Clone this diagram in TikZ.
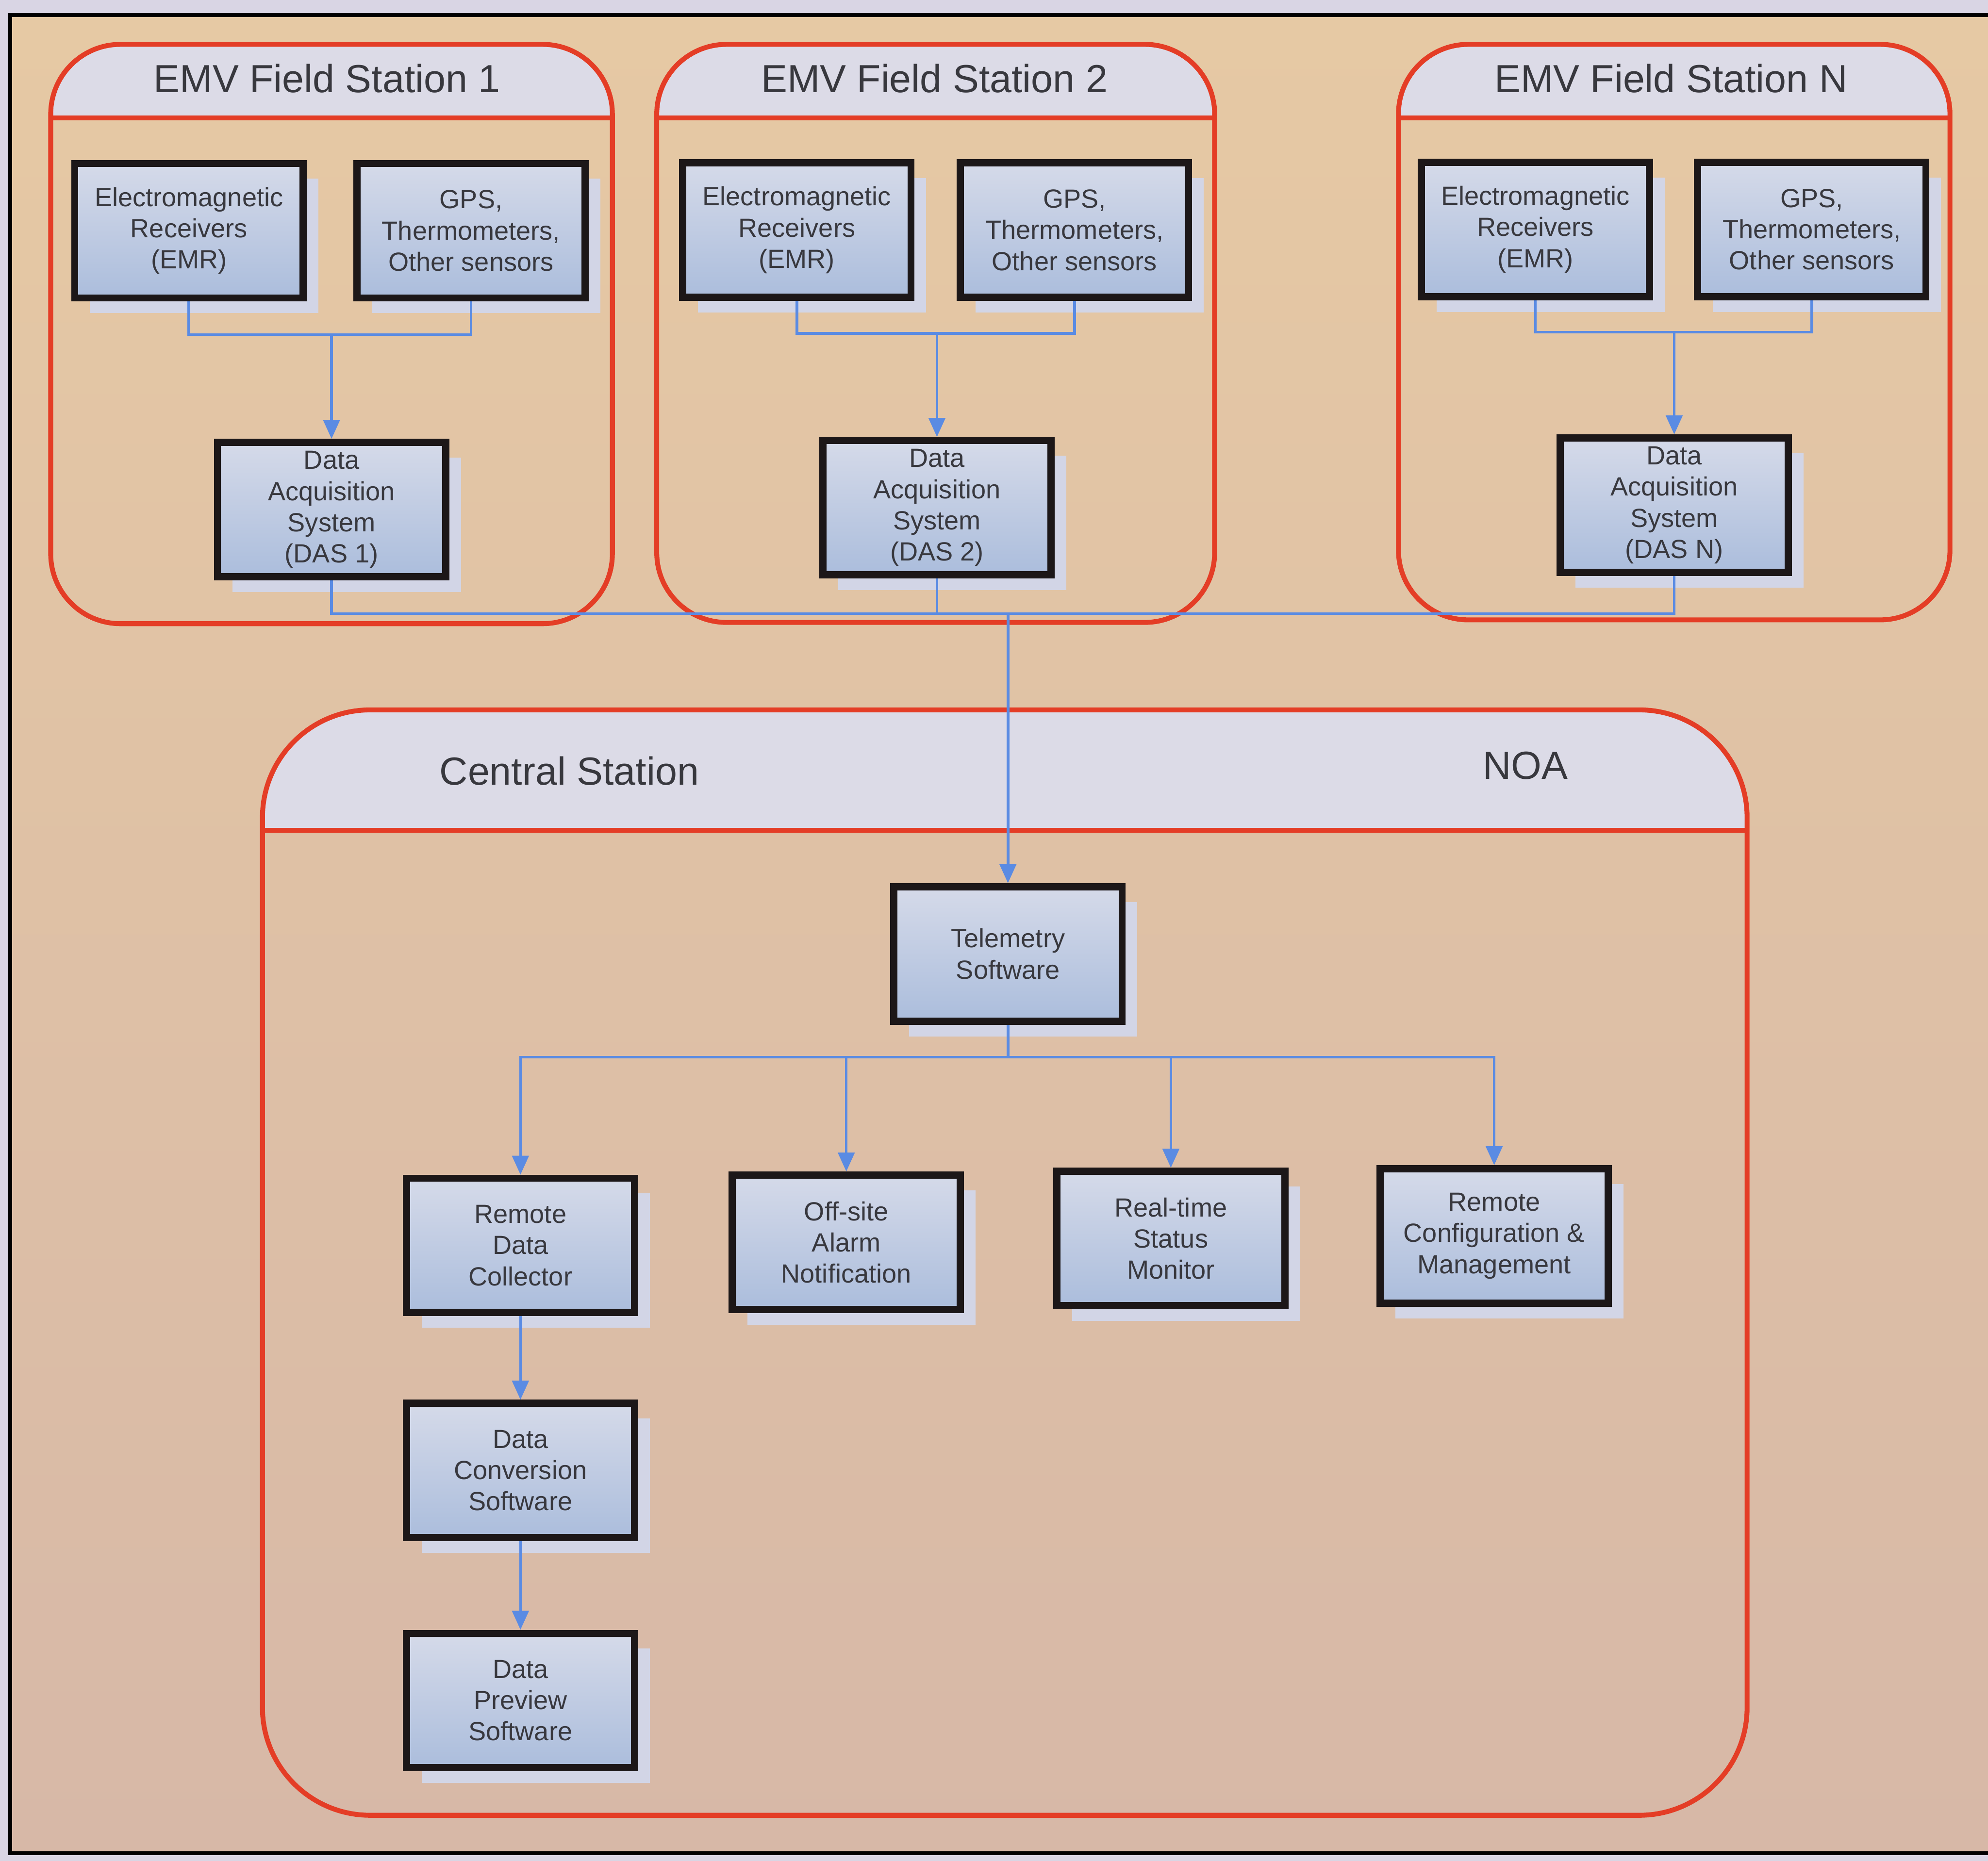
\documentclass[tikz,border=0pt]{standalone}
\usepackage{fontspec}
\setmainfont{Liberation Sans}
\usetikzlibrary{arrows.meta,shadows}

\definecolor{outerbg}{HTML}{D9D5E4}
\definecolor{beigetop}{HTML}{E6C9A4}
\definecolor{beigebot}{HTML}{D7B8A7}
\definecolor{headc}{HTML}{DCDBE7}
\definecolor{redc}{HTML}{E43D26}
\definecolor{bluec}{HTML}{5A8BE3}
\definecolor{boxline}{HTML}{1C1718}
\definecolor{boxtop}{HTML}{D5DAE9}
\definecolor{boxbot}{HTML}{ABBDDC}
\definecolor{shadowc}{HTML}{D2D5E6}
\definecolor{textc}{HTML}{38383E}

\tikzset{
  procbox/.style={draw=boxline, line width=1.6pt, top color=boxtop, bottom color=boxbot,
    minimum width=18mm, minimum height=10.6mm, inner sep=0pt, align=center,
    font=\fontsize{5.9}{7}\selectfont, text=textc,
    general shadow={fill=shadowc, shadow xshift=1.2mm, shadow yshift=-1.2mm}},
  titletext/.style={font=\fontsize{8.8}{10}\selectfont, text=textc, inner sep=0pt},
  redframe/.style={draw=redc, line width=1.1pt},
  link/.style={draw=bluec, line width=0.6pt},
  linkarrow/.style={link, -{Triangle[length=1.5mm, width=1.3mm]}},
}

% rounded station frame with a tinted title band
\newcommand\emvframe[6]{%
  \begin{scope}
    \clip[rounded corners=#6] (#1,#2) rectangle (#3,#4);
    \fill[headc] (#1,#2) rectangle (#3,#5);
  \end{scope}
  \draw[redframe, rounded corners=#6] (#1,#2) rectangle (#3,#4);
  \draw[redframe] (#1,#5) -- (#3,#5);
}

\begin{document}
\begin{tikzpicture}[x=0.1mm, y=-0.1mm]
\useasboundingbox (0,0) rectangle (1568,1468);
\clip (0,0) rectangle (1568,1468);

% page and panel
\fill[outerbg] (0,0) rectangle (1568,1468);
\shade[top color=beigetop, bottom color=beigebot] (8,12) rectangle (1590,1462);
\draw[black, line width=0.9pt] (1590,12) -- (8,12) -- (8,1462) -- (1590,1462);

% station frames
\emvframe{40}{35}{483}{492}{93}{5.5mm}
\emvframe{518}{35}{958}{491}{93}{5.5mm}
\emvframe{1103}{35}{1538}{489}{93}{5.5mm}
\emvframe{207}{560}{1378}{1432}{655}{8.5mm}

% titles
\node[titletext] (t1) at (258,62) {EMV Field Station 1};
\node[titletext] (t2) at (737,62) {EMV Field Station 2};
\node[titletext] (tN) at (1318,62) {EMV Field Station N};
\node[titletext] (tc) at (449,608) {Central Station};
\node[titletext] (noa) at (1203,604) {NOA};

% field station 1
\node[procbox] (emr1) at (149,182) {Electromagnetic\\Receivers\\(EMR)};
\node[procbox] (gps1) at (371.5,182) {GPS,\\Thermometers,\\Other sensors};
\node[procbox] (das1) at (261.5,402) {Data\\Acquisition\\System\\(DAS 1)};

% field station 2
\node[procbox] (emr2) at (628.5,181.5) {Electromagnetic\\Receivers\\(EMR)};
\node[procbox] (gps2) at (847.5,181.5) {GPS,\\Thermometers,\\Other sensors};
\node[procbox] (das2) at (739,400.5) {Data\\Acquisition\\System\\(DAS 2)};

% field station N
\node[procbox] (emrN) at (1211,181) {Electromagnetic\\Receivers\\(EMR)};
\node[procbox] (gpsN) at (1429,181) {GPS,\\Thermometers,\\Other sensors};
\node[procbox] (dasN) at (1320.5,398.5) {Data\\Acquisition\\System\\(DAS N)};

% central station
\node[procbox] (tel) at (795,752.5) {Telemetry\\Software};
\node[procbox] (rdc) at (410.5,982.5) {Remote\\Data\\Collector};
\node[procbox] (alarm) at (667.5,980) {Off-site\\Alarm\\Notification};
\node[procbox] (status) at (923.5,977) {Real-time\\Status\\Monitor};
\node[procbox] (config) at (1178.5,975) {Remote\\Configuration \&\\Management};
\node[procbox] (conv) at (410.5,1160) {Data\\Conversion\\Software};
\node[procbox] (prev) at (410.5,1341.5) {Data\\Preview\\Software};

% junction points
\coordinate (j1) at (261.5,264);
\coordinate (j2) at (739,263);
\coordinate (jN) at (1320.5,262);
\coordinate (jm) at (795,484);
\coordinate (jc) at (795,834);

% sensors to acquisition systems
\draw[link] (emr1.south) |- (j1);
\draw[link] (gps1.south) |- (j1);
\draw[linkarrow] (j1) -- (das1.north);
\draw[link] (emr2.south) |- (j2);
\draw[link] (gps2.south) |- (j2);
\draw[linkarrow] (j2) -- (das2.north);
\draw[link] (emrN.south) |- (jN);
\draw[link] (gpsN.south) |- (jN);
\draw[linkarrow] (jN) -- (dasN.north);

% acquisition systems to telemetry
\draw[link] (das1.south) |- (jm);
\draw[link] (das2.south) |- (jm);
\draw[link] (dasN.south) |- (jm);
\draw[linkarrow] (jm) -- (tel.north);

% telemetry to central services
\draw[link] (tel.south) -- (jc);
\draw[linkarrow] (jc) -| (rdc.north);
\draw[linkarrow] (jc) -| (alarm.north);
\draw[linkarrow] (jc) -| (status.north);
\draw[linkarrow] (jc) -| (config.north);
\draw[linkarrow] (rdc.south) -- (conv.north);
\draw[linkarrow] (conv.south) -- (prev.north);
\end{tikzpicture}
\end{document}
